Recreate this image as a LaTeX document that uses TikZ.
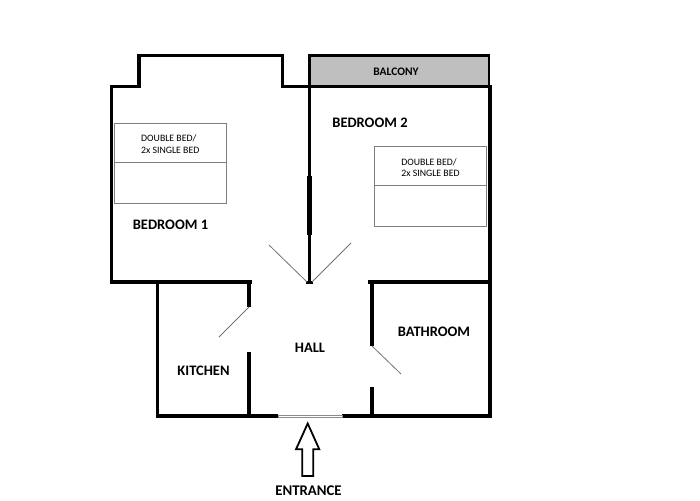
\documentclass[tikz,border=0pt]{standalone}
\usepackage{fontspec}
\setmainfont{Carlito}
\definecolor{balconygray}{HTML}{BFBFBF}
\definecolor{bedgray}{HTML}{7F7F7F}
\tikzset{
    wall/.style={line width=3.6pt},
    roomlabel/.style={font=\bfseries\fontsize{14.5}{16}\selectfont},
    bedlabel/.style={font=\fontsize{9.8}{11.5}\selectfont,align=left},
    door/.style={draw=black!55,line width=0.8pt},
}
\begin{document}
\begin{tikzpicture}[x=1pt,y=-1pt]
    \useasboundingbox (0,0) rectangle (700,500);

    \filldraw[fill=balconygray,line width=2.2pt] (309.5,55.5) rectangle (489,86.5);

    \draw[wall] (157.5,282) -- (157.5,416);
    \draw[wall] (111.5,282) -- (111.5,86.5) -- (139,86.5) -- (139,55.5) -- (282.5,55.5) -- (282.5,86.5) -- (490,86.5) -- (490,416) -- (341.5,416);
    \draw[wall] (278,416) -- (155.7,416);
    \draw[wall] (109.7,282) -- (251.5,282);
    \draw[wall] (249,282) -- (249,307);
    \draw[wall] (249,352) -- (249,416);
    \draw[wall] (368,282) -- (490,282);
    \draw[wall] (372,282) -- (372,345.5);
    \draw[wall] (372,387) -- (372,416);
    \draw[wall] (309.5,86.5) -- (309.5,282);
    \draw[line width=5.5pt] (309.5,176) -- (309.5,235);
    \draw[line width=3pt] (306,282) -- (313,282);

    \draw[door] (307,282) -- (269,245);
    \draw[door] (312,282) -- (351,243);
    \draw[door] (249,307) -- (219,337);
    \draw[door] (372,346) -- (401,374);
    \draw[draw=black!45,fill=white,line width=0.7pt] (278,415) rectangle (342,417);

    \draw[draw=bedgray,line width=0.9pt] (114,123) rectangle (226.5,203);
    \draw[draw=bedgray,line width=0.9pt] (114,162.5) -- (226.5,162.5);
    \draw[draw=bedgray,line width=0.9pt] (374.7,146.7) rectangle (486.7,226);
    \draw[draw=bedgray,line width=0.9pt] (374.7,185.7) -- (486.7,185.7);

    \draw[line width=1.8pt,line join=miter] (307.7,423.5) -- (319.3,449.3) -- (313.3,449.3) -- (313.3,476) -- (302.3,476) -- (302.3,449.3) -- (296,449.3) -- cycle;

    \node[roomlabel] (balcony) at (396,71.5) {\fontsize{11.5}{13}\selectfont BALCONY};
    \node[roomlabel] (bedroom1) at (170.5,224.8) {BEDROOM 1};
    \node[roomlabel] (bedroom2) at (370,122.8) {BEDROOM 2};
    \node[roomlabel] (kitchen) at (203.5,370.5) {KITCHEN};
    \node[roomlabel] (hall) at (310,347.8) {HALL};
    \node[roomlabel] (bathroom) at (434,331.8) {BATHROOM};
    \node[roomlabel] (entrance) at (308.5,490.8) {\fontsize{14.8}{16}\selectfont ENTRANCE};
    \node[bedlabel] (bed1) at (170.3,144.3) {DOUBLE BED/\\2x SINGLE BED};
    \node[bedlabel] (bed2) at (430.5,167.8) {DOUBLE BED/\\2x SINGLE BED};
\end{tikzpicture}
\end{document}
